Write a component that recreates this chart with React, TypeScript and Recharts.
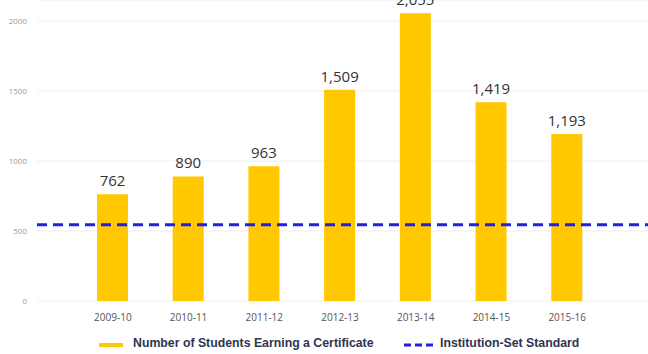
import { BarChart, Bar, XAxis, YAxis, CartesianGrid, ReferenceLine, LabelList } from 'recharts'

const years = ['2009-10', '2010-11', '2011-12', '2012-13', '2013-14', '2014-15', '2015-16']
const certificates = [762, 890, 963, 1509, 2055, 1419, 1193]
const standard = 545
const yTicks = [0, 500, 1000, 1500, 2000]

const data = years.map((year, i) => ({ year, count: certificates[i] }))

const YELLOW = '#FFC800'
const BLUE = '#1f1fe8'

function ChartLegend() {
  const text = { position: 'absolute' as const, top: 0, fontFamily: '"Liberation Sans", Arial, sans-serif', fontSize: 12.3, fontWeight: 700, color: '#2e3550', whiteSpace: 'nowrap' as const }
  return (
    <div style={{ position: 'absolute', left: 0, top: 336, width: 648, height: 18 }}>
      <div style={{ position: 'absolute', left: 99, top: 7, width: 24, height: 4, background: YELLOW }} />
      <span style={{ ...text, left: 133 }}>Number of Students Earning a Certificate</span>
      <svg style={{ position: 'absolute', left: 404, top: 6 }} width={32} height={6}>
        <line x1={0} y1={3} x2={32} y2={3} stroke={BLUE} strokeWidth={3} strokeDasharray="7 4" />
      </svg>
      <span style={{ ...text, left: 440 }}>Institution-Set Standard</span>
    </div>
  )
}

export default function App() {
  return (
    <div style={{ position: 'absolute', left: 0, top: 0, width: 648, height: 354, background: '#fff' }}>
      <BarChart width={648} height={354} data={data} margin={{ top: 0, right: 0, bottom: 23, left: 0 }}>
        <CartesianGrid vertical={false} stroke="#efefef" />
        <XAxis
          dataKey="year"
          height={30}
          axisLine={false}
          tickLine={false}
          tickMargin={7}
          padding={{ left: 38, right: 43 }}
          tick={{ fontSize: 10, fill: '#555', fontFamily: '"Open Sans", sans-serif' }}
        />
        <YAxis
          width={37}
          domain={[0, 2150]}
          ticks={yTicks}
          axisLine={false}
          tickLine={false}
          tickMargin={4}
          tick={{ fontSize: 8, fill: '#999', fontFamily: '"Open Sans", sans-serif' }}
        />
        <Bar dataKey="count" fill={YELLOW} barSize={31} isAnimationActive={false}>
          <LabelList
            dataKey="count"
            position="top"
            offset={8}
            formatter={(v: any) => Number(v).toLocaleString('en-US')}
            style={{ fontSize: 15, fill: '#333', fontFamily: '"Open Sans", sans-serif' }}
          />
        </Bar>
        <ReferenceLine y={standard} stroke={BLUE} strokeWidth={3} strokeDasharray="10 6" />
      </BarChart>
      <ChartLegend />
    </div>
  )
}
